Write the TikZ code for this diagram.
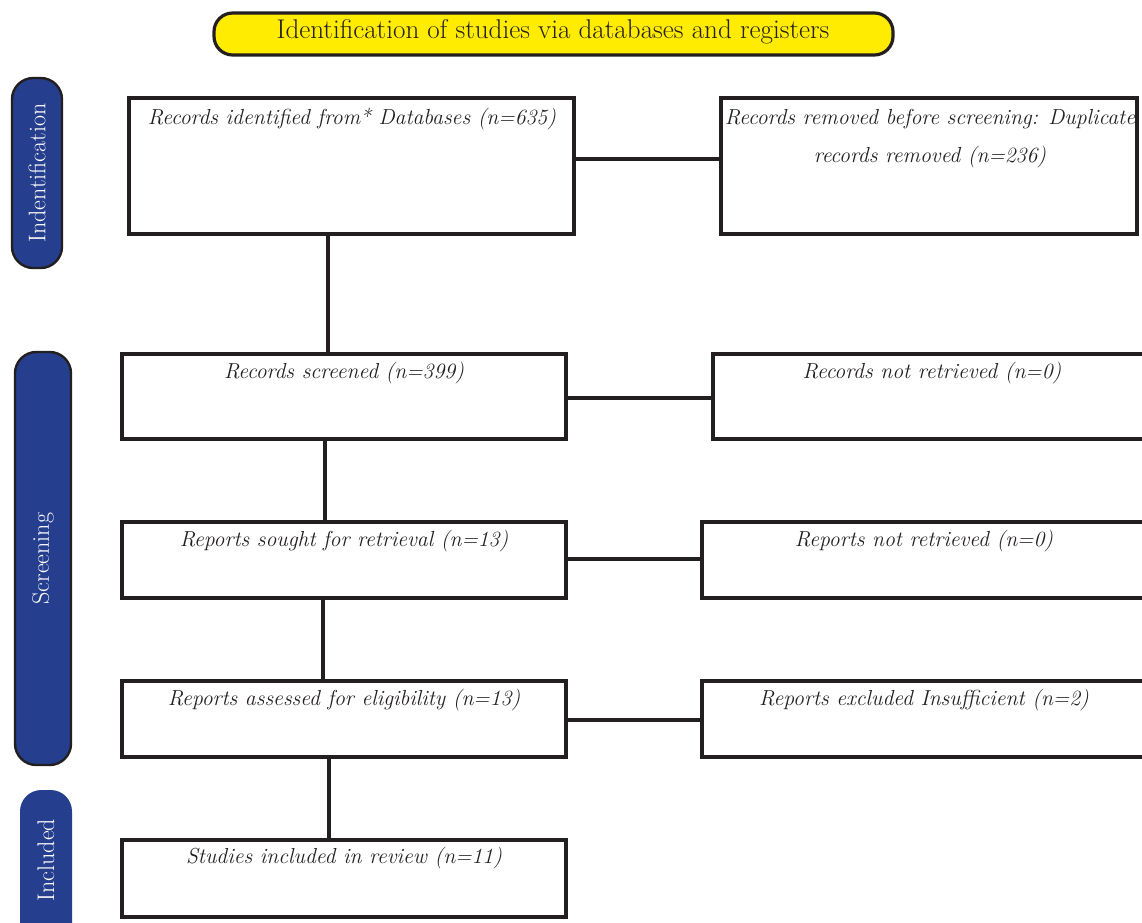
\documentclass[tikz,border=0pt]{standalone}
\usetikzlibrary{positioning}
\definecolor{hdryellow}{HTML}{FFEC00}
\definecolor{sideblue}{HTML}{253F8E}
\definecolor{lineblack}{HTML}{231F20}
\tikzset{
  bx/.style={draw=lineblack, line width=2.6pt, rectangle, inner sep=0pt},
  bxtext/.style={font=\fontsize{16.3}{28.5}\selectfont\itshape, text=lineblack, anchor=base, align=center, inner sep=0pt},
  side/.style={draw=lineblack, line width=1.8pt, fill=sideblue, rounded corners=16pt, inner sep=0pt},
  sidetext/.style={font=\fontsize{18}{20}\selectfont, text=white, rotate=90, inner sep=0pt},
  conn/.style={draw=lineblack, line width=2.6pt},
}
\begin{document}
\begin{tikzpicture}[x=0.75pt, y=-0.75pt]
\useasboundingbox (0,0) rectangle (1142,922);
\clip (0,0) rectangle (1142,922);
% header
\node[draw=lineblack, line width=2.4pt, fill=hdryellow, rounded corners=14pt, minimum width=679*0.75pt, minimum height=42*0.75pt, inner sep=0pt] (hdr) at (553.5,34) {};
\node[font=\fontsize{20.3}{24}\selectfont, text=lineblack, inner sep=0pt] (hdrt) at (553,32) {Identification of studies via databases and registers};
% side labels
\node[side, minimum width=50*0.75pt, minimum height=190*0.75pt] (s1) at (37,173) {};
\node[sidetext] (s1t) at (s1) {Indentification};
\node[side, minimum width=56*0.75pt, minimum height=413*0.75pt] (s2) at (43,558.5) {};
\node[sidetext] (s2t) at (s2) {Screening};
\node[side, draw=none, minimum width=52*0.75pt, minimum height=180*0.75pt] (s3) at (46,880) {};
\node[sidetext] (s3t) at (46,860) {Included};
% boxes
\node[bx, minimum width=445*0.75pt, minimum height=136*0.75pt] (b1) at (351.5,166) {};
\node[bx, minimum width=416*0.75pt, minimum height=136*0.75pt] (r1) at (929,166) {};
\node[bx, minimum width=444*0.75pt, minimum height=85*0.75pt] (b2) at (344,396.5) {};
\node[bx, minimum width=447*0.75pt, minimum height=85*0.75pt] (r2) at (936.5,396.5) {};
\node[bx, minimum width=444*0.75pt, minimum height=76*0.75pt] (b3) at (344,560) {};
\node[bx, minimum width=458*0.75pt, minimum height=76*0.75pt] (r3) at (931,560) {};
\node[bx, minimum width=444*0.75pt, minimum height=76*0.75pt] (b4) at (344,719) {};
\node[bx, minimum width=458*0.75pt, minimum height=76*0.75pt] (r4) at (931,719) {};
\node[bx, minimum width=444*0.75pt, minimum height=77*0.75pt] (b5) at (344,878.5) {};
% texts
\node[bxtext] (t1) at (352,124) {Records identified from* Databases (n=635)};
\node[bxtext] (tr1) at (930,162) {Records removed before screening: Duplicate\\records removed (n=236)};
\node[bxtext] (t2) at (344,378) {Records screened (n=399)};
\node[bxtext] (tr2) at (932,378) {Records not retrieved (n=0)};
\node[bxtext] (t3) at (344,546) {Reports sought for retrieval (n=13)};
\node[bxtext] (tr3) at (924,546) {Reports not retrieved (n=0)};
\node[bxtext] (t4) at (344,705) {Reports assessed for eligibility (n=13)};
\node[bxtext] (tr4) at (924,705) {Reports excluded Insufficient (n=2)};
\node[bxtext] (t5) at (344,863) {Studies included in review (n=11)};
% connectors
\coordinate (v1) at (328,0);
\coordinate (v2) at (325,0);
\coordinate (v3) at (323,0);
\coordinate (v4) at (329,0);
\coordinate (h1) at (0,159);
\coordinate (h2) at (0,398);
\coordinate (h3) at (0,559);
\coordinate (h4) at (0,720);
\draw[conn] (b1.east |- h1) -- (r1.west |- h1);
\draw[conn] (b2.east |- h2) -- (r2.west |- h2);
\draw[conn] (b3.east |- h3) -- (r3.west |- h3);
\draw[conn] (b4.east |- h4) -- (r4.west |- h4);
\draw[conn] (b1.south -| v1) -- (b2.north -| v1);
\draw[conn] (b2.south -| v2) -- (b3.north -| v2);
\draw[conn] (b3.south -| v3) -- (b4.north -| v3);
\draw[conn] (b4.south -| v4) -- (b5.north -| v4);
\end{tikzpicture}
\end{document}
